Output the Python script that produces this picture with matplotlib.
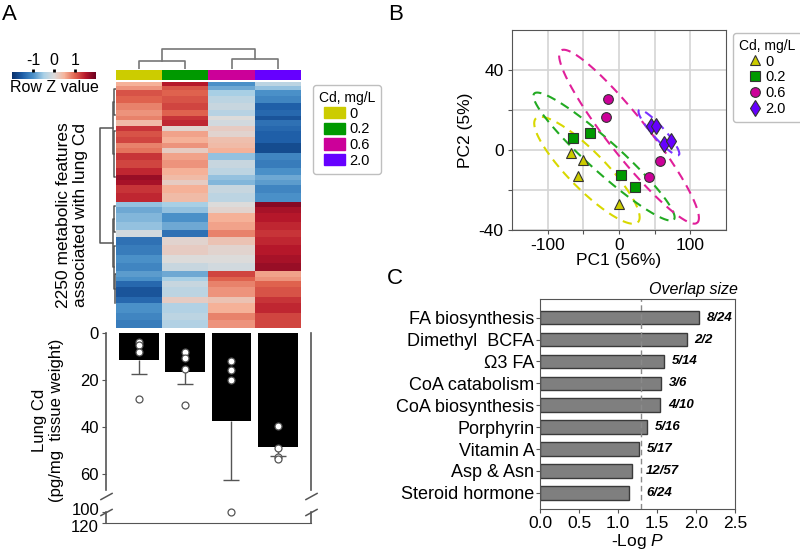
import numpy as np
import matplotlib.pyplot as plt
from matplotlib.colors import ListedColormap, LinearSegmentedColormap, Normalize
from matplotlib.patches import Patch
from matplotlib.lines import Line2D
from matplotlib.transforms import ScaledTranslation

plt.rcParams['font.family'] = ['Liberation Sans', 'DejaVu Sans']
plt.rcParams['mathtext.fontset'] = 'custom'
plt.rcParams['mathtext.rm'] = 'Liberation Sans'
plt.rcParams['mathtext.it'] = 'Liberation Sans:italic'
plt.rcParams['axes.unicode_minus'] = False

# ---------------- data ----------------
doses = ['0', '0.2', '0.6', '2.0']
dose_colors = ['#cccc00', '#009900', '#cc0099', '#6600ff']

# heatmap bands: number of features in each band, row Z value per dose group
band_sizes = [37, 37, 55, 64, 64, 55, 37, 55, 46, 55, 55, 46, 46, 64, 73, 64, 46, 46, 73, 82,
              46, 55, 82, 73, 64, 73, 91, 73, 73, 55, 37, 55, 91, 55, 91, 64, 72]
band_z = [
    [0.5, 1.5, -1.0, -0.3], [0.7, 1.1, -0.8, -0.6], [1.1, 1.0, -0.5, -1.0],
    [1.0, 1.1, -0.3, -1.1], [0.8, 1.2, -0.2, -1.5], [0.7, 1.0, -0.35, -1.4],
    [0.8, 1.3, 0.0, -1.6], [0.4, 1.4, -0.1, -1.3], [1.3, 0.1, 0.2, -1.4],
    [1.1, 0.6, 0.1, -1.5], [1.2, 0.5, 0.35, -1.5], [0.8, 0.7, 0.4, -1.7],
    [0.9, 0.2, 0.5, -1.7], [1.3, 0.6, -0.6, -1.1], [1.2, 0.7, -0.2, -1.2],
    [1.4, 0.5, -0.3, -1.0], [1.7, 0.4, -0.6, -0.8], [1.6, 0.2, -0.7, -0.9],
    [1.3, 0.5, -0.2, -1.1], [1.4, 0.4, -0.3, -1.0],
    [-0.6, -0.5, 0.0, 1.8], [-0.8, -0.6, 0.1, 1.6], [-0.7, -1.0, 0.5, 1.5],
    [-0.6, -0.8, 0.6, 1.4], [-0.1, -1.3, 0.8, 1.3], [-1.3, 0.1, 0.3, 1.4],
    [-1.2, 0.2, 0.1, 1.5], [-1.0, 0.0, 0.0, 1.6], [-1.1, -0.2, -0.1, 1.7],
    [-0.9, -0.8, 1.2, 0.6], [-1.0, -0.5, 1.0, 0.7], [-1.4, -0.2, 0.8, 1.0],
    [-1.6, -0.3, 0.7, 1.1], [-1.4, 0.2, 0.3, 1.3], [-1.0, -0.4, 0.5, 1.4],
    [-1.1, -0.3, 0.8, 1.2], [-1.2, -0.4, 0.7, 1.2],
]

# dendrogram links: (pos a, pos b, height a, height b, link height)
col_links = [(0, 1, 0, 0, 0.8), (2, 3, 0, 0, 1.0), (0.5, 2.5, 0.8, 1.0, 2.0)]
row_links = [
    (421, 1472, 0.2, 0.2, 1.0),
    (180, 660, 0.1, 0.12, 0.2),
    (60, 300, 0.0, 0.05, 0.1),
    (450, 870, 0.06, 0.08, 0.12),
    (1250, 1695, 0.12, 0.1, 0.2),
    (1130, 1370, 0.05, 0.06, 0.12),
    (1500, 1890, 0.07, 0.08, 0.1),
    (1760, 2020, 0.0, 0.04, 0.08),
]

# lung Cd
cd_mean = [11.5, 16.5, 37.4, 48.6]
cd_err = [6.0, 5.3, 25.4, 3.7]
cd_points = [[4.0, 5.0, 8.2, 28.0], [8.0, 10.8, 15.5, 30.6],
             [11.8, 15.6, 20.1, 100.5], [39.6, 48.8, 52.8, 53.8]]

# PCA scores
pc1 = [[-67.6, -49.9, -57.5, 0.0], [-64.0, -40.5, 2.8, 22.8],
       [-15.4, -18.8, 58.0, 42.3], [45.0, 51.8, 62.9, 72.3]]
pc2 = [[-1.7, -5.0, -13.0, -27.0], [6.1, 8.3, -12.3, -18.3],
       [25.5, 16.6, -5.5, -13.3], [12.0, 12.0, 3.0, 4.4]]
pca_markers = ['^', 's', 'o', 'd']
ellipse_tips = [(-116.5, 15.8, 26.6, -36.1), (-118.9, 28.2, 76.9, -34.8),
                (-81.5, 49.7, 109.6, -36.4), (28.0, 19.9, 83.9, -2.5)]
ellipse_ratio = [0.255, 0.165, 0.18, 0.2]
ellipse_colors = ['#d8d800', '#22aa22', '#e0209a', '#7a33ff']

# pathway enrichment
pathways = ['FA biosynthesis', 'Dimethyl  BCFA', 'Ω3 FA', 'CoA catabolism',
            'CoA biosynthesis', 'Porphyrin', 'Vitamin A', 'Asp & Asn', 'Steroid hormone']
neg_log_p = [2.04, 1.88, 1.59, 1.547, 1.538, 1.376, 1.274, 1.184, 1.137]
overlap = ['8/24', '2/2', '5/14', '3/6', '4/10', '5/16', '5/17', '12/57', '6/24']

W, H = 800, 552
fig = plt.figure(figsize=(W / 100, H / 100), dpi=100)


def px_axes(x0, y0, x1, y1):
    return fig.add_axes([x0 / W, 1 - y1 / H, (x1 - x0) / W, (y1 - y0) / H])


zcmap = LinearSegmentedColormap.from_list(
    'z', ['#08306b', '#1f5fa8', '#4a90c8', '#a8cfe6', '#dcdcdc',
          '#f6b39a', '#e0644f', '#b8182b', '#6a0020'])
znorm = Normalize(-2, 2)

# ---------------- panel A: heatmap ----------------
ax_h = px_axes(116, 82, 301, 328)
mat = np.repeat(np.array(band_z), band_sizes, axis=0)
ax_h.imshow(mat, aspect='auto', cmap=zcmap, norm=znorm, interpolation='nearest')
ax_h.set_xticks([])
ax_h.set_yticks([])
for s in ax_h.spines.values():
    s.set_visible(False)

ax_s = px_axes(116, 70, 301, 80)
ax_s.imshow([[0, 1, 2, 3]], aspect='auto', cmap=ListedColormap(dose_colors))
ax_s.axis('off')

ax_dt = px_axes(116, 47, 301, 69)
for a, b, ha, hb, h in col_links:
    ax_dt.plot([a, a, b, b], [ha, h, h, hb], color='#777777', lw=1.2)
ax_dt.set_xlim(-0.5, 3.5)
ax_dt.set_ylim(0, 2.2)
ax_dt.axis('off')

ax_dr = px_axes(99, 82, 116, 328)
for a, b, ha, hb, h in row_links:
    ax_dr.plot([ha, h, h, hb], [a, a, b, b], color='#555555', lw=1.1)
ax_dr.set_ylim(mat.shape[0] - 0.5, -0.5)
ax_dr.set_xlim(1.06, 0)
ax_dr.axis('off')

ax_cb = px_axes(12, 72, 96, 79)
cb = fig.colorbar(plt.cm.ScalarMappable(norm=znorm, cmap=zcmap), cax=ax_cb,
                  orientation='horizontal', ticks=[-1, 0, 1])
cb.outline.set_visible(False)
ax_cb.xaxis.set_ticks_position('top')
ax_cb.tick_params(length=2, width=2, labelsize=11.5, pad=1)
ax_cb.text(0.5, -0.2, 'Row Z value', transform=ax_cb.transAxes,
           ha='center', va='top', fontsize=11.5)

fig.text(72 / W, 1 - 215 / H, '2250 metabolic features\nassociated with lung Cd',
         rotation=90, ha='center', va='center', fontsize=12.5, linespacing=1.15)

fig.legend(handles=[Patch(facecolor=c, edgecolor=c) for c in dose_colors], labels=doses,
           title='Cd, mg/L', loc='upper left', bbox_to_anchor=(313 / W, 1 - 85 / H),
           borderaxespad=0, fontsize=10.5, title_fontsize=10, frameon=True,
           fancybox=True, edgecolor='#b0b0b0', handlelength=1.4, handleheight=0.8,
           labelspacing=0.12, handletextpad=0.3, borderpad=0.4)

# ---------------- panel A: lung Cd bars ----------------
knots_y = [-1000, 0, 70, 100, 120, 1000]
knots_f = [-1000, 0, 70, 76.2, 80.9, 80.9 + 880 * 0.234]


def fwd(v):
    return np.interp(v, knots_y, knots_f)


def inv(v):
    return np.interp(v, knots_f, knots_y)


ax_b = px_axes(106, 333, 311, 523)
ax_b.set_yscale('function', functions=(fwd, inv))
xb = np.arange(4)
ax_b.bar(xb, cd_mean, width=0.86, color='black', zorder=2)
lo_end = np.array(cd_mean) + np.array(cd_err)
ax_b.vlines(xb, cd_mean, lo_end, color='#555555', lw=1, zorder=3)
ax_b.plot(xb, lo_end, ls='none', marker='_', ms=12, mew=1, color='#555555', zorder=3)
for i, pts in enumerate(cd_points):
    ax_b.plot([i] * len(pts), pts, 'o', mfc='white', mec='#555555', mew=0.9, ms=5,
              zorder=4, clip_on=False)
ax_b.set_ylim(120, 0)
ax_b.set_xlim(-0.71, 3.72)
ax_b.set_yticks([0, 20, 40, 60, 100, 120])
ax_b.set_xticks([])
ax_b.tick_params(axis='y', length=3, labelsize=12, color='#555555', pad=2)
labs = ax_b.get_yticklabels()
labs[4].set_transform(labs[4].get_transform() + ScaledTranslation(0, 2 / 72, fig.dpi_scale_trans))
labs[5].set_transform(labs[5].get_transform() + ScaledTranslation(0, -2 / 72, fig.dpi_scale_trans))
for side in ['top', 'left', 'right']:
    ax_b.spines[side].set_visible(False)
ax_b.spines['bottom'].set_color('#555555')
trans = ax_b.get_yaxis_transform()
for xs in [0, 1]:
    ax_b.plot([xs, xs], [0, 67], color='#555555', lw=1.2, transform=trans, clip_on=False)
    ax_b.plot([xs, xs], [100.5, 120], color='#555555', lw=1.2, transform=trans, clip_on=False)
    ax_b.plot([xs, xs], [69.5, 99.5], ls='none', marker=[(-1, -0.55), (1, 0.55)],
              ms=9, mew=1.1, color='#555555', transform=trans, clip_on=False)
fig.text(48 / W, 1 - 420 / H, 'Lung Cd\n(pg/mg  tissue weight)', rotation=90,
         ha='center', va='center', fontsize=12, linespacing=1.1)

# ---------------- panel B: PCA ----------------
ax_p = px_axes(512, 30, 726, 230)
ax_p.set_xlim(-150, 150)
ax_p.set_ylim(-40, 60)
ax_p.set_xticks([-100, -50, 0, 50, 100], ['-100', '', '0', '', '100'])
ax_p.set_yticks([-40, -20, 0, 20, 40], ['-40', '', '0', '', '40'])
ax_p.grid(True, color='#d4d4d4', lw=1.2)
ax_p.set_axisbelow(True)
ax_p.tick_params(length=3, labelsize=12.5, color='#555555', pad=3)
for s in ax_p.spines.values():
    s.set_color('#555555')
sx = 214 / 300
sy = 200 / 100
t = np.linspace(0, 2 * np.pi, 240)
for (x1, y1, x2, y2), r, c in zip(ellipse_tips, ellipse_ratio, ellipse_colors):
    cx, cy = (x1 + x2) / 2, (y1 + y2) / 2
    ux, uy = (x2 - x1) / 2 * sx, (y2 - y1) / 2 * sy
    vx, vy = -uy * r, ux * r
    ax_p.plot(cx + (ux * np.cos(t) + vx * np.sin(t)) / sx,
              cy + (uy * np.cos(t) + vy * np.sin(t)) / sy,
              color=c, lw=1.5, ls=(0, (4.5, 3)))
handles_b = []
for xs, ys, m, c, lab in zip(pc1, pc2, pca_markers, dose_colors, doses):
    ms = 8.5 if m == 'd' else 7
    ax_p.plot(xs, ys, ls='none', marker=m, ms=ms, mfc=c, mec='#333333', mew=0.8, zorder=5)
    handles_b.append(Line2D([], [], ls='none', marker=m, ms=ms, mfc=c, mec='#333333',
                            mew=0.8, label=lab))
ax_p.set_xlabel('PC1 (56%)', fontsize=12.5, labelpad=0)
ax_p.set_ylabel('PC2 (5%)', fontsize=12.5, labelpad=4)
ax_p.legend(handles=handles_b, title='Cd, mg/L', loc='upper left',
            bbox_to_anchor=(1.035, 0.985), borderaxespad=0, fontsize=10.5,
            title_fontsize=10, frameon=True, fancybox=True, edgecolor='#b0b0b0',
            handlelength=0.8, handletextpad=0.3, labelspacing=0.12, borderpad=0.4)

# ---------------- panel C: pathways ----------------
ax_c = px_axes(540, 299, 735, 509)
yc = np.arange(len(pathways))
ax_c.barh(yc, neg_log_p, height=0.62, color='#7f7f7f', edgecolor='#3a3a3a', lw=1)
ax_c.axvline(1.301, color='#8a8a8a', lw=1, ls=(0, (4, 2.5)))
for yi, v, lab in zip(yc, neg_log_p, overlap):
    ax_c.text(max(v + 0.1, 1.36), yi, lab, fontsize=9.5, fontweight='bold',
              style='italic', va='center', ha='left')
ax_c.set_xlim(0, 2.5)
ax_c.set_ylim(8.74, -0.85)
ax_c.set_yticks(yc, pathways)
ax_c.set_xticks([0, 0.5, 1.0, 1.5, 2.0, 2.5])
ax_c.xaxis.set_major_formatter(plt.FormatStrFormatter('%.1f'))
ax_c.tick_params(axis='y', length=3, labelsize=13, color='#555555', pad=1)
ax_c.tick_params(axis='x', length=3, labelsize=12.5, color='#555555', pad=2)
for s in ax_c.spines.values():
    s.set_color('#555555')
ax_c.set_xlabel('-Log $P$', fontsize=12.5, labelpad=1)
ax_c.text(1.015, 1.01, 'Overlap size', transform=ax_c.transAxes, ha='right',
          va='bottom', style='italic', fontsize=11.5)

# panel letters
fig.text(2 / W, 1 - 4 / H, 'A', fontsize=16, ha='left', va='top')
fig.text(388 / W, 1 - 4 / H, 'B', fontsize=16, ha='left', va='top')
fig.text(387 / W, 1 - 268 / H, 'C', fontsize=16, ha='left', va='top')

fig.savefig('out.png', dpi=100)
